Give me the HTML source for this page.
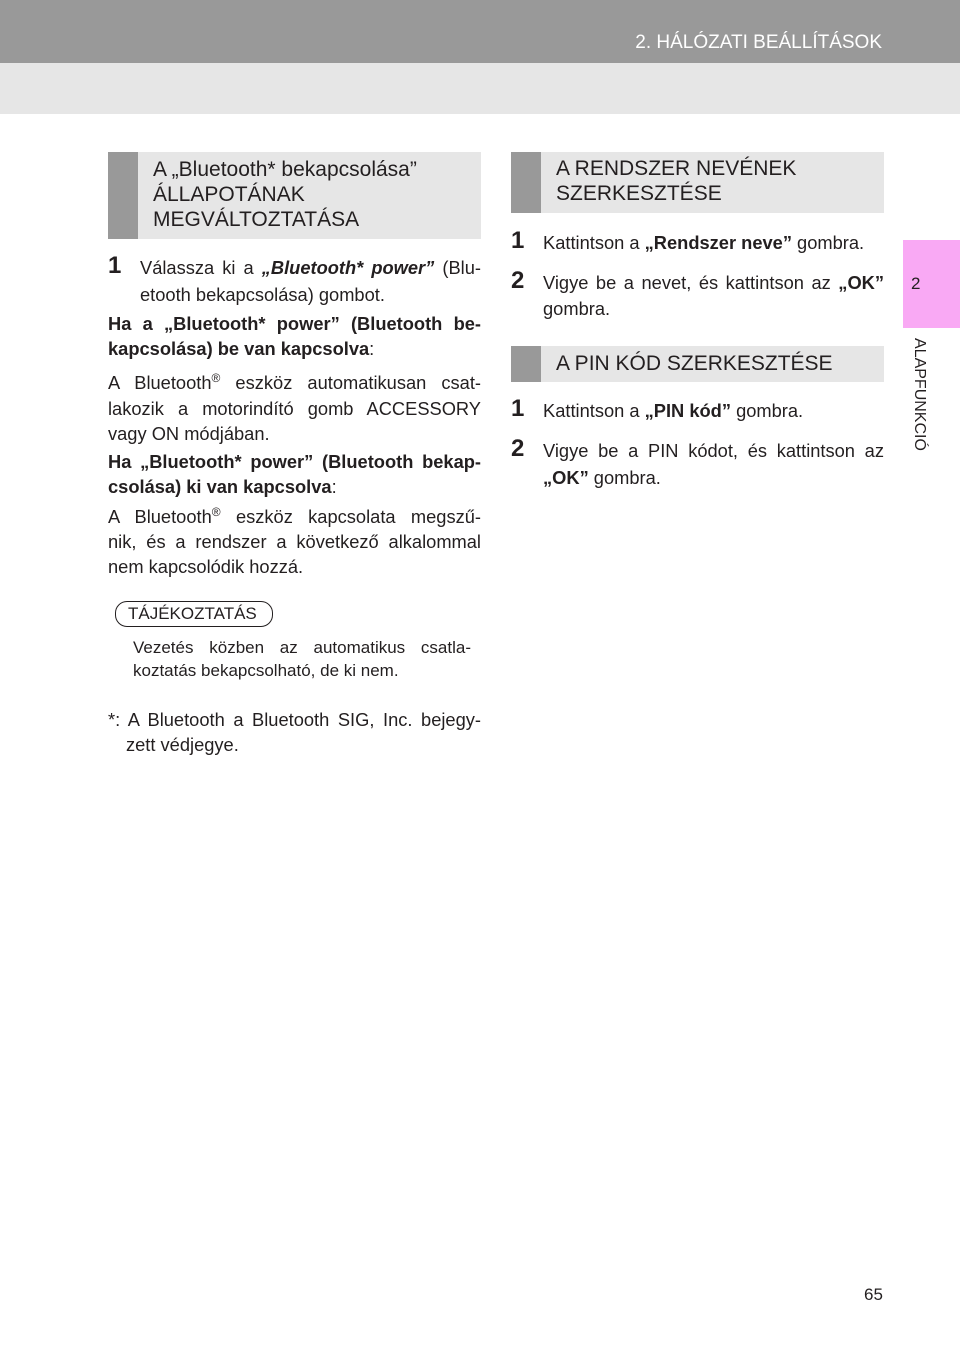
<!DOCTYPE html>
<html><head><meta charset="utf-8"><style>
body{margin:0;width:960px;height:1352px;position:relative;background:#fff;font-family:"Liberation Sans",sans-serif;color:#231f20;overflow:hidden}
.a{position:absolute;white-space:nowrap;line-height:24px;height:24px;font-size:18.3px}
.j{text-align:justify;text-align-last:justify}
.h{position:absolute;background:#e6e6e6}
.h i{position:absolute;left:0;top:0;bottom:0;width:30px;background:#999}
.ht{position:absolute;font-size:21px;line-height:25px;white-space:nowrap}
.n{position:absolute;font-size:24px;font-weight:bold;line-height:24px}
b{font-weight:bold}
sup{font-size:12px;vertical-align:7px;line-height:0}
</style></head><body>
<div style="position:absolute;left:0;top:0;width:960px;height:63px;background:#999"></div>
<div style="position:absolute;left:0;top:63px;width:960px;height:51px;background:#e6e6e6"></div>
<div style="position:absolute;right:78px;top:32px;color:#fff;font-size:19px;line-height:22px">2. HÁLÓZATI BEÁLLÍTÁSOK</div>
<div style="position:absolute;left:903px;top:240px;width:57px;height:88px;background:#f9a9f4"></div>
<div style="position:absolute;left:911px;top:274px;font-size:17px">2</div>
<div style="position:absolute;left:910px;top:338px;width:18px;height:132px;"><div style="position:absolute;left:18px;top:0;transform-origin:0 0;transform:rotate(90deg);font-size:16px;white-space:nowrap;width:132px;line-height:18px">ALAPFUNKCIÓ</div></div>

<div class="h" style="left:108px;top:152px;width:373px;height:87px"><i></i></div>
<div class="ht" style="left:153px;top:157px">A „Bluetooth* bekapcsolása”<br>ÁLLAPOTÁNAK<br>MEGVÁLTOZTATÁSA</div>
<div class="h" style="left:511px;top:152px;width:373px;height:61px"><i></i></div>
<div class="ht" style="left:556px;top:156px">A RENDSZER NEVÉNEK<br>SZERKESZTÉSE</div>
<div class="h" style="left:511px;top:346px;width:373px;height:36px"><i></i></div>
<div class="ht" style="left:556px;top:351px">A PIN KÓD SZERKESZTÉSE</div>

<div class="n" style="left:108px;top:254px">1</div>
<div class="a j" style="left:140px;top:256px;width:341px">Válassza ki a <b><i>„Bluetooth* power”</i></b> (Blu-</div>
<div class="a" style="left:140px;top:283px">etooth bekapcsolása) gombot.</div>
<div class="a j" style="left:108px;top:312px;width:373px"><b>Ha a „Bluetooth* power” (Bluetooth be-</b></div>
<div class="a" style="left:108px;top:337px"><b>kapcsolása) be van kapcsolva</b>:</div>
<div class="a j" style="left:108px;top:371px;width:373px">A Bluetooth<sup>®</sup> eszköz automatikusan csat-</div>
<div class="a j" style="left:108px;top:397px;width:373px">lakozik a motorindító gomb ACCESSORY</div>
<div class="a" style="left:108px;top:422px">vagy ON módjában.</div>
<div class="a j" style="left:108px;top:450px;width:373px"><b>Ha „Bluetooth* power” (Bluetooth bekap-</b></div>
<div class="a" style="left:108px;top:475px"><b>csolása) ki van kapcsolva</b>:</div>
<div class="a j" style="left:108px;top:505px;width:373px">A Bluetooth<sup>®</sup> eszköz kapcsolata megszű-</div>
<div class="a j" style="left:108px;top:530px;width:373px">nik, és a rendszer a következő alkalommal</div>
<div class="a" style="left:108px;top:555px">nem kapcsolódik hozzá.</div>

<div style="position:absolute;left:115px;top:601px;width:156px;height:24px;border:1.5px solid #231f20;border-radius:12px"></div>
<div class="a" style="left:128px;top:602px;font-size:17px">TÁJÉKOZTATÁS</div>
<div class="a j" style="left:133px;top:636px;width:338px;font-size:17px">Vezetés közben az automatikus csatla-</div>
<div class="a" style="left:133px;top:659px;font-size:17px">koztatás bekapcsolható, de ki nem.</div>
<div class="a j" style="left:108px;top:708px;width:373px">*: A Bluetooth a Bluetooth SIG, Inc. bejegy-</div>
<div class="a" style="left:126px;top:733px">zett védjegye.</div>

<div class="n" style="left:511px;top:229px">1</div>
<div class="a" style="left:543px;top:231px">Kattintson a <b>„Rendszer neve”</b> gombra.</div>
<div class="n" style="left:511px;top:269px">2</div>
<div class="a j" style="left:543px;top:271px;width:341px">Vigye be a nevet, és kattintson az <b>„OK”</b></div>
<div class="a" style="left:543px;top:297px">gombra.</div>
<div class="n" style="left:511px;top:397px">1</div>
<div class="a" style="left:543px;top:399px">Kattintson a <b>„PIN kód”</b> gombra.</div>
<div class="n" style="left:511px;top:437px">2</div>
<div class="a j" style="left:543px;top:439px;width:341px">Vigye be a PIN kódot, és kattintson az</div>
<div class="a" style="left:543px;top:466px"><b>„OK”</b> gombra.</div>

<div style="position:absolute;left:864px;top:1285px;font-size:17px">65</div>
</body></html>
